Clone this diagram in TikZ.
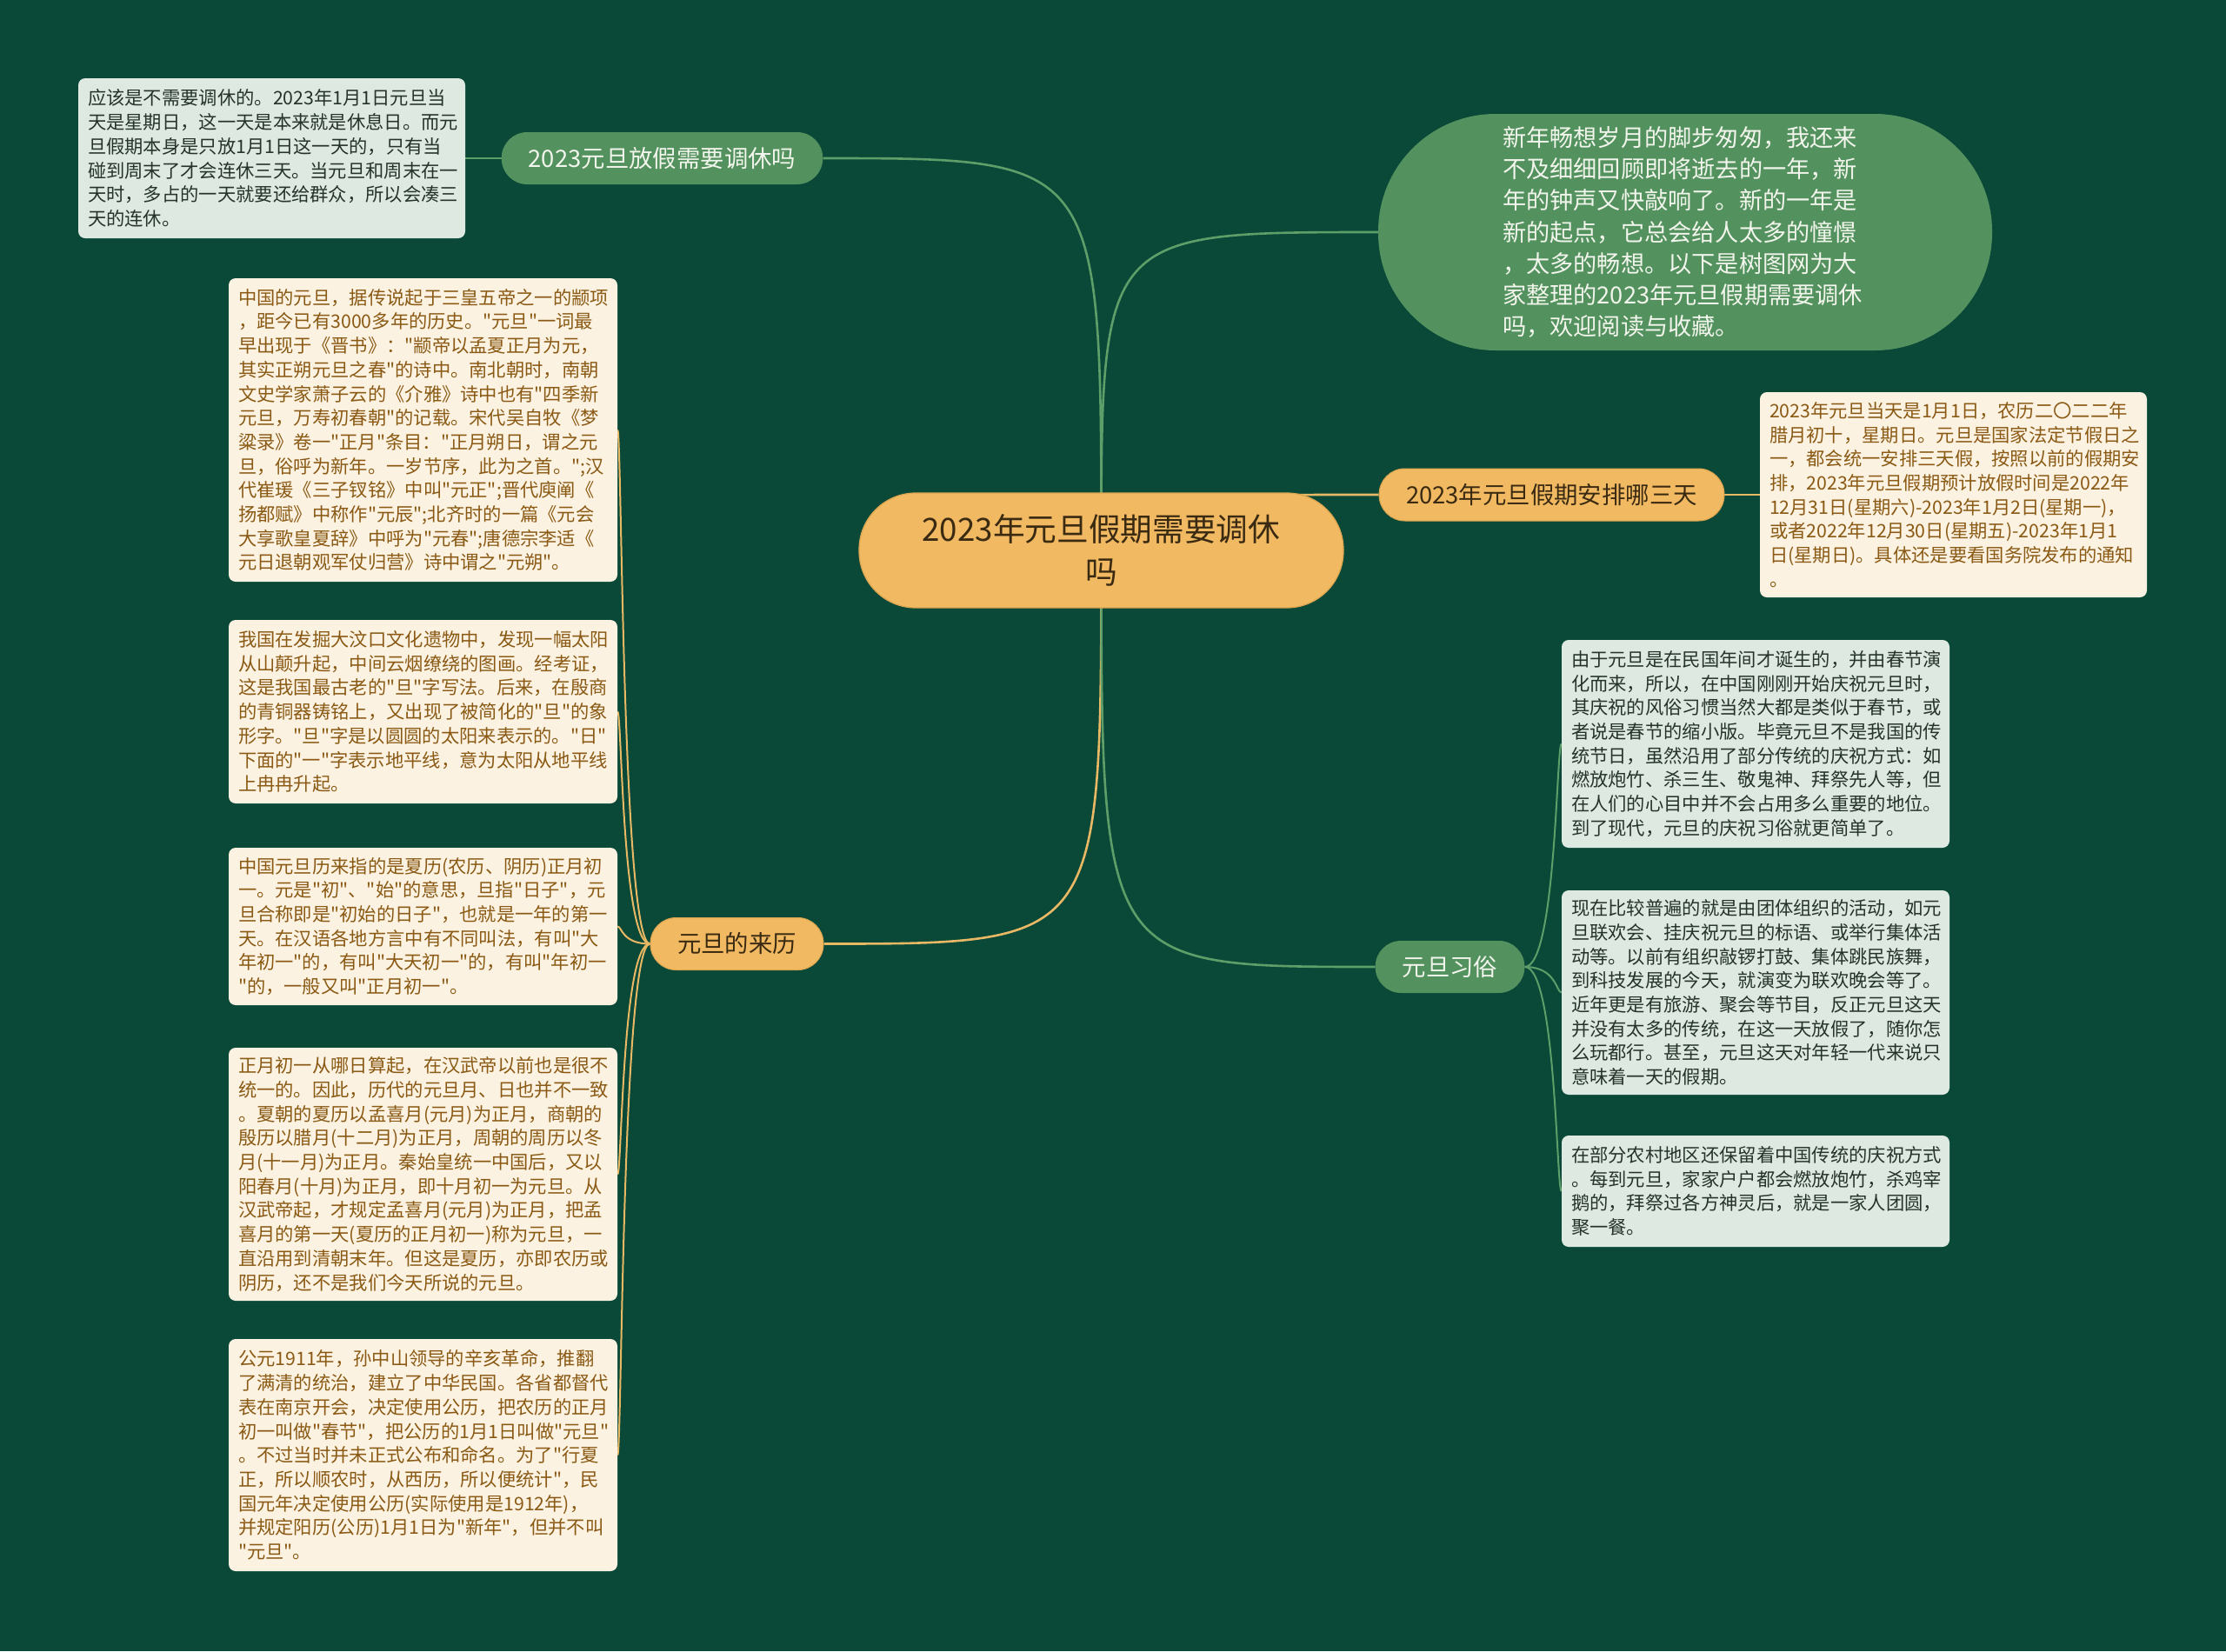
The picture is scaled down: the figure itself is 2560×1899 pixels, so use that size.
\documentclass[tikz,border=0pt]{standalone}
\usepackage{fontspec}
\setmainfont{Noto Sans CJK SC}
\newcommand\dq{\XeTeXglyph\XeTeXcharglyph"22\relax}
\usetikzlibrary{calc}
\pgfdeclarelayer{bglayer}
\pgfdeclarelayer{edgelayer}
\pgfsetlayers{bglayer,edgelayer,main}
\definecolor{bgc}{HTML}{0A4938}
\definecolor{gnode}{HTML}{53925E}
\definecolor{onode}{HTML}{F0B962}
\definecolor{onodeedge}{HTML}{D9A44F}
\definecolor{gline}{HTML}{5E9F69}
\definecolor{oline}{HTML}{E9B865}
\definecolor{lbox}{HTML}{DDE9E1}
\definecolor{cbox}{HTML}{FCF2E2}
\definecolor{browntxt}{HTML}{8A5A14}
\definecolor{darktxt}{HTML}{25332A}
\definecolor{otxt}{HTML}{3A2A12}
\definecolor{wtxt}{HTML}{F2F5EC}
\begin{document}
\begin{tikzpicture}[x=1pt,y=-1pt,
  every node/.style={inner sep=0pt},
  centralnode/.style={rectangle, rounded corners=65pt, fill=onode, draw=onodeedge, line width=1.2pt,
    minimum width=557pt, minimum height=132pt, align=center, text=otxt,
    font=\fontsize{36.7}{49}\selectfont},
  branchnode/.style={rectangle, rounded corners=29.5pt, minimum height=60pt, inner xsep=31pt,
    font=\fontsize{27.4}{30}\selectfont},
  obranch/.style={branchnode, fill=onode, draw=onodeedge, line width=1pt, text=otxt},
  gbranch/.style={branchnode, fill=gnode, text=wtxt},
  tbox/.style={rectangle, rounded corners=8pt, inner xsep=11pt, inner ysep=0pt, align=left,
    font=\fontsize{21.3}{27.7}\selectfont},
  cream/.style={tbox, fill=cbox, text=browntxt},
  pale/.style={tbox, fill=lbox, text=darktxt},
  gl/.style={draw=gline, line width=2.6pt},
  ol/.style={draw=oline, line width=2.6pt},
  gls/.style={draw=gline, line width=2pt},
  ols/.style={draw=oline, line width=2pt}
]
\begin{pgfonlayer}{bglayer}
\fill[bgc] (0,0) rectangle (2560,1899);
\end{pgfonlayer}
\useasboundingbox (0,0) rectangle (2560,1899);

% central
\node[centralnode] (c) at (1266.5,633) {2023年元旦假期需要调休\\吗};

% branches
\node[gbranch] (b1) at (761.5,182) {2023元旦放假需要调休吗};
\node[obranch] (b2) at (847.5,1085.5) {元旦的来历};
\node[obranch] (b3) at (1784.5,569) {2023年元旦假期安排哪三天};
\node[gbranch] (b4) at (1667.5,1112) {元旦习俗};

% intro stadium
\node[rectangle, rounded corners=135pt, fill=gnode, text=wtxt, minimum width=706pt, minimum height=272pt,
  text width=420pt, align=left, font=\fontsize{27.2}{36.2}\selectfont] (s) at (1938,267)
  {新年畅想岁月的脚步匆匆，我还来\\不及细细回顾即将逝去的一年，新\\年的钟声又快敲响了。新的一年是\\新的起点，它总会给人太多的憧憬\\，太多的畅想。以下是树图网为大\\家整理的2023年元旦假期需要调休\\吗，欢迎阅读与收藏。};

% top-left box
\node[pale, text width=423pt, minimum height=184pt] (tl) at (312.5,182)
  {应该是不需要调休的。2023年1月1日元旦当\\天是星期日，这一天是本来就是休息日。而元\\旦假期本身是只放1月1日这一天的，只有当\\碰到周末了才会连休三天。当元旦和周末在一\\天时，多占的一天就要还给群众，所以会凑三\\天的连休。};

% left boxes
\node[cream, text width=425pt, minimum height=349pt] (l1) at (486.5,494.5)
  {中国的元旦，据传说起于三皇五帝之一的颛项\\，距今已有3000多年的历史。\dq{}元旦\dq{}一词最\\早出现于《晋书》：\dq{}颛帝以孟夏正月为元，\\其实正朔元旦之春\dq{}的诗中。南北朝时，南朝\\文史学家萧子云的《介雅》诗中也有\dq{}四季新\\元旦，万寿初春朝\dq{}的记载。宋代吴自牧《梦\\粱录》卷一\dq{}正月\dq{}条目：\dq{}正月朔日，谓之元\\旦，俗呼为新年。一岁节序，此为之首。\dq{};汉\\代崔瑗《三子钗铭》中叫\dq{}元正\dq{};晋代庾阐《\\扬都赋》中称作\dq{}元辰\dq{};北齐时的一篇《元会\\大享歌皇夏辞》中呼为\dq{}元春\dq{};唐德宗李适《\\元日退朝观军仗归营》诗中谓之\dq{}元朔\dq{}。};
\node[cream, text width=425pt, minimum height=211pt] (l2) at (486.5,818.5)
  {我国在发掘大汶口文化遗物中，发现一幅太阳\\从山颠升起，中间云烟缭绕的图画。经考证，\\这是我国最古老的\dq{}旦\dq{}字写法。后来，在殷商\\的青铜器铸铭上，又出现了被简化的\dq{}旦\dq{}的象\\形字。\dq{}旦\dq{}字是以圆圆的太阳来表示的。\dq{}日\dq{}\\下面的\dq{}一\dq{}字表示地平线，意为太阳从地平线\\上冉冉升起。};
\node[cream, text width=425pt, minimum height=181pt] (l3) at (486.5,1065.5)
  {中国元旦历来指的是夏历(农历、阴历)正月初\\一。元是\dq{}初\dq{}、\dq{}始\dq{}的意思，旦指\dq{}日子\dq{}，元\\旦合称即是\dq{}初始的日子\dq{}，也就是一年的第一\\天。在汉语各地方言中有不同叫法，有叫\dq{}大\\年初一\dq{}的，有叫\dq{}大天初一\dq{}的，有叫\dq{}年初一\\\dq{}的，一般又叫\dq{}正月初一\dq{}。};
\node[cream, text width=425pt, minimum height=291pt] (l4) at (486.5,1350.5)
  {正月初一从哪日算起，在汉武帝以前也是很不\\统一的。因此，历代的元旦月、日也并不一致\\。夏朝的夏历以孟喜月(元月)为正月，商朝的\\殷历以腊月(十二月)为正月，周朝的周历以冬\\月(十一月)为正月。秦始皇统一中国后，又以\\阳春月(十月)为正月，即十月初一为元旦。从\\汉武帝起，才规定孟喜月(元月)为正月，把孟\\喜月的第一天(夏历的正月初一)称为元旦，一\\直沿用到清朝末年。但这是夏历，亦即农历或\\阴历，还不是我们今天所说的元旦。};
\node[cream, text width=425pt, minimum height=267pt] (l5) at (486.5,1673.5)
  {公元1911年，孙中山领导的辛亥革命，推翻\\了满清的统治，建立了中华民国。各省都督代\\表在南京开会，决定使用公历，把农历的正月\\初一叫做\dq{}春节\dq{}，把公历的1月1日叫做\dq{}元旦\dq{}\\。不过当时并未正式公布和命名。为了\dq{}行夏\\正，所以顺农时，从西历，所以便统计\dq{}，民\\国元年决定使用公历(实际使用是1912年)，\\并规定阳历(公历)1月1日为\dq{}新年\dq{}，但并不叫\\\dq{}元旦\dq{}。};

% right boxes
\node[cream, text width=423pt, minimum height=236pt] (r3) at (2246.5,569)
  {2023年元旦当天是1月1日，农历二〇二二年\\腊月初十，星期日。元旦是国家法定节假日之\\一，都会统一安排三天假，按照以前的假期安\\排，2023年元旦假期预计放假时间是2022年\\12月31日(星期六)-2023年1月2日(星期一)，\\或者2022年12月30日(星期五)-2023年1月1\\日(星期日)。具体还是要看国务院发布的通知\\。};
\node[pale, text width=424pt, minimum height=239pt] (ra) at (2019,855.5)
  {由于元旦是在民国年间才诞生的，并由春节演\\化而来，所以，在中国刚刚开始庆祝元旦时，\\其庆祝的风俗习惯当然大都是类似于春节，或\\者说是春节的缩小版。毕竟元旦不是我国的传\\统节日，虽然沿用了部分传统的庆祝方式：如\\燃放炮竹、杀三生、敬鬼神、拜祭先人等，但\\在人们的心目中并不会占用多么重要的地位。\\到了现代，元旦的庆祝习俗就更简单了。};
\node[pale, text width=424pt, minimum height=235pt] (rb) at (2019,1141.5)
  {现在比较普遍的就是由团体组织的活动，如元\\旦联欢会、挂庆祝元旦的标语、或举行集体活\\动等。以前有组织敲锣打鼓、集体跳民族舞，\\到科技发展的今天，就演变为联欢晚会等了。\\近年更是有旅游、聚会等节目，反正元旦这天\\并没有太多的传统，在这一天放假了，随你怎\\么玩都行。甚至，元旦这天对年轻一代来说只\\意味着一天的假期。};
\node[pale, text width=424pt, minimum height=128pt] (rc) at (2019,1370)
  {在部分农村地区还保留着中国传统的庆祝方式\\。每到元旦，家家户户都会燃放炮竹，杀鸡宰\\鹅的，拜祭过各方神灵后，就是一家人团圆，\\聚一餐。};

% connectors
\begin{pgfonlayer}{edgelayer}
\draw[gl] (c.center) .. controls (c.center |- b1.east) and (c.center |- b1.east) .. (b1.east);
\draw[gl] (c.center) .. controls (c.center |- s.west) and (c.center |- s.west) .. (s.west);
\draw[ol] (c.center) .. controls (c.center |- b3.west) and (c.center |- b3.west) .. (b3.west);
\draw[ol] (c.center) .. controls (c.center |- b2.east) and (c.center |- b2.east) .. (b2.east);
\draw[gl] (c.center) .. controls (c.center |- b4.west) and (c.center |- b4.west) .. (b4.west);
\draw[gls] (b1.west) -- (tl.east);
\draw[ols] (b3.east) -- (r3.west);
\foreach \n in {l1,l2,l3,l4,l5}{
  \draw[ols] (b2.west) .. controls ($(\n.east |- b2.west)+(5,0)$) and ($(\n.east)+(5,0)$) .. (\n.east);
}
\foreach \n in {ra,rb,rc}{
  \draw[gls] (b4.east) .. controls ($(\n.west |- b4.east)+(-6,0)$) and ($(\n.west)+(-6,0)$) .. (\n.west);
}
\end{pgfonlayer}
\end{tikzpicture}
\end{document}
